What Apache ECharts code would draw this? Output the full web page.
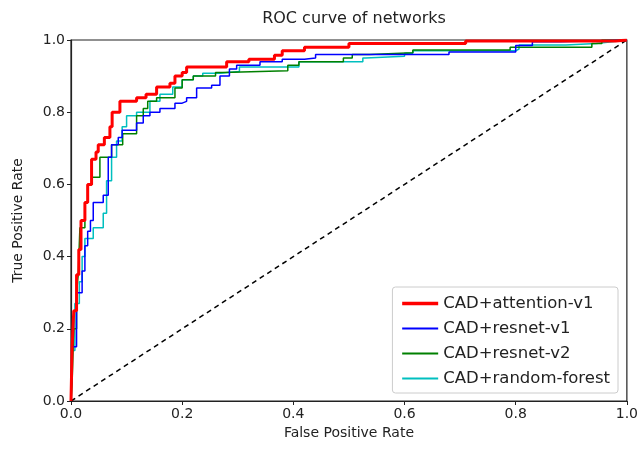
<!DOCTYPE html>
<html>
<head>
<meta charset="utf-8">
<script src="https://cdn.jsdelivr.net/npm/echarts@6/dist/echarts.min.js"></script>
<style>
  html, body { margin: 0; padding: 0; background: #fff; }
  #chart { width: 641px; height: 450px; }
</style>
</head>
<body>
<div id="chart"></div>
<script>
// ROC points, [false positive rate, true positive rate]
const attentionV1 = [[0,0],[0.002,0.15],[0.005,0.25],[0.01,0.35],[0.014,0.42],[0.018,0.5],[0.025,0.55],[0.03,0.6],[0.037,0.67],[0.045,0.69],[0.049,0.71],[0.06,0.73],[0.07,0.76],[0.074,0.8],[0.088,0.83],[0.118,0.84],[0.135,0.85],[0.154,0.87],[0.178,0.88],[0.187,0.9],[0.2,0.91],[0.208,0.925],[0.28,0.94],[0.32,0.947],[0.366,0.958],[0.38,0.97],[0.42,0.98],[0.5,0.99],[0.71,0.997],[0.98,1.0],[1,1]];
const resnetV1 = [[0,0],[0.002,0.15],[0.01,0.3],[0.02,0.36],[0.025,0.43],[0.03,0.47],[0.035,0.5],[0.04,0.55],[0.058,0.57],[0.067,0.675],[0.073,0.71],[0.085,0.73],[0.092,0.75],[0.118,0.77],[0.13,0.79],[0.142,0.8],[0.16,0.81],[0.187,0.825],[0.2,0.83],[0.208,0.84],[0.226,0.867],[0.253,0.875],[0.268,0.9],[0.285,0.92],[0.298,0.93],[0.34,0.94],[0.38,0.947],[0.42,0.95],[0.44,0.96],[0.68,0.967],[0.8,0.985],[0.83,0.995],[0.88,1.0],[1,1]];
const resnetV2 = [[0,0],[0.002,0.05],[0.005,0.2],[0.01,0.3],[0.013,0.35],[0.016,0.48],[0.025,0.55],[0.03,0.6],[0.038,0.62],[0.052,0.675],[0.073,0.71],[0.093,0.74],[0.118,0.79],[0.13,0.81],[0.138,0.83],[0.154,0.84],[0.187,0.867],[0.2,0.89],[0.22,0.9],[0.26,0.91],[0.273,0.915],[0.39,0.93],[0.41,0.94],[0.49,0.95],[0.506,0.96],[0.537,0.965],[0.615,0.972],[0.79,0.98],[0.937,0.99],[0.955,1.0],[1,1]];
const randomForest = [[0,0],[0.002,0.14],[0.007,0.27],[0.015,0.33],[0.02,0.4],[0.025,0.45],[0.04,0.48],[0.058,0.52],[0.064,0.61],[0.073,0.675],[0.082,0.72],[0.092,0.76],[0.1,0.79],[0.118,0.8],[0.142,0.83],[0.16,0.85],[0.183,0.87],[0.2,0.89],[0.22,0.9],[0.237,0.908],[0.268,0.913],[0.303,0.925],[0.41,0.94],[0.525,0.95],[0.53,0.955],[0.6,0.963],[0.615,0.97],[0.8,0.975],[0.806,0.986],[0.89,0.99],[0.945,0.995],[0.973,1.0],[1,1]];
const chance = [[0,0],[1,1]];

const seriesNames = ['CAD+attention-v1', 'CAD+resnet-v1', 'CAD+resnet-v2', 'CAD+random-forest'];
const seriesColors = ['#ff0000', '#0000ff', '#008000', '#00bfbf'];
const seriesWidths = [3, 1.5, 1.5, 1.5];
const seriesData = [attentionV1, resnetV1, resnetV2, randomForest];

const font = 'DejaVu Sans';

let chart = echarts.init(document.getElementById('chart'), null, { renderer: 'canvas' });

let series = seriesData.map((d, i) => ({
  name: seriesNames[i],
  type: 'line',
  step: 'end',
  data: d,
  symbol: 'none',
  z: 10 - i,
  lineStyle: { color: seriesColors[i], width: seriesWidths[i] },
  itemStyle: { color: seriesColors[i] }
}));

series.push({
  name: 'chance',
  type: 'line',
  data: chance,
  symbol: 'none',
  silent: true,
  lineStyle: { color: '#000', width: 1.5, type: [5, 4] },
  z: 1
});

let legendData = seriesNames.map((n, i) => ({
  name: n,
  lineStyle: { width: seriesWidths[i] + 0.5, color: seriesColors[i] }
}));

let option = {
  animation: false,
  textStyle: { fontFamily: font },
  title: {
    text: 'ROC curve of networks',
    left: 349,
    textAlign: 'center',
    top: 6,
    textStyle: { fontFamily: font, fontSize: 16, fontWeight: 'normal', color: '#222' }
  },
  grid: {
    left: 71, right: 13, top: 40, bottom: 49,
    show: true, borderColor: '#222', borderWidth: 1.2, backgroundColor: 'transparent'
  },
  legend: {
    data: legendData,
    orient: 'vertical',
    right: 23,
    bottom: 57,
    itemWidth: 36,
    itemHeight: 10,
    itemGap: 8,
    padding: [8, 8, 6, 8],
    backgroundColor: '#fff',
    borderColor: '#ccc',
    borderWidth: 1,
    borderRadius: 3,
    itemStyle: { opacity: 0 },
    textStyle: { fontFamily: font, fontSize: 16.5, color: '#222' }
  },
  xAxis: {
    type: 'value',
    min: 0, max: 1, interval: 0.2,
    name: 'False Positive Rate',
    nameLocation: 'middle',
    nameGap: 24,
    nameTextStyle: { fontFamily: font, fontSize: 14, color: '#222' },
    axisLine: { show: true, onZero: false, lineStyle: { color: '#222', width: 1.2 } },
    axisTick: { show: true, length: 4, lineStyle: { color: '#222' } },
    axisLabel: { fontFamily: font, fontSize: 14, color: '#222', margin: 6, formatter: v => v.toFixed(1) },
    splitLine: { show: false }
  },
  yAxis: {
    type: 'value',
    min: 0, max: 1, interval: 0.2,
    name: 'True Positive Rate',
    nameLocation: 'middle',
    nameGap: 46,
    nameTextStyle: { fontFamily: font, fontSize: 14, color: '#222' },
    axisLine: { show: true, onZero: false, lineStyle: { color: '#222', width: 1.2 } },
    axisTick: { show: true, length: 4, lineStyle: { color: '#222' } },
    axisLabel: { fontFamily: font, fontSize: 14, color: '#222', margin: 6, formatter: v => v.toFixed(1) },
    splitLine: { show: false }
  },
  series: series
};

chart.setOption(option);
</script>
</body>
</html>
